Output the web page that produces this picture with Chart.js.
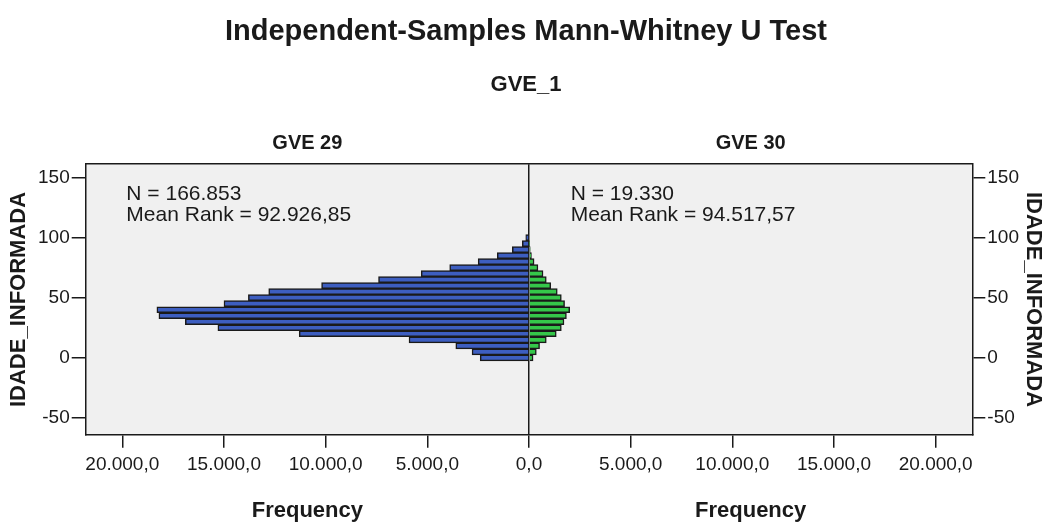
<!DOCTYPE html>
<html>
<head>
<meta charset="utf-8">
<script src="https://cdn.jsdelivr.net/npm/chart.js@4/dist/chart.umd.min.js"></script>
<style>
  html, body { margin: 0; padding: 0; background: #fff; }
  #wrap { width: 1045px; height: 523px; }
</style>
</head>
<body>
<div id="wrap"><canvas id="mw" width="1045" height="523"></canvas></div>
<script>
// Age bins (bin centres, width 5) and frequencies per group
const ageBins   = [0, 5, 10, 15, 20, 25, 30, 35, 40, 45, 50, 55, 60, 65, 70, 75, 80, 85, 90, 95, 100];
const gve29Freq = [2400, 2800, 3600, 5900, 11300, 15300, 16900, 18200, 18300, 15000, 13800,
                   12800, 10200, 7400, 5300, 3900, 2500, 1560, 820, 330, 160];
const gve30Freq = [200, 360, 520, 850, 1340, 1590, 1720, 1840, 2000, 1750, 1590,
                   1390, 1070, 850, 690, 440, 250, 120, 60, 20, 0];

const groupNames  = ['GVE 29', 'GVE 30'];
const groupStats  = [
  ['N = 166.853', 'Mean Rank = 92.926,85'],
  ['N = 19.330',  'Mean Rank = 94.517,57'],
];
const freqTicks   = [-20000, -15000, -10000, -5000, 0, 5000, 10000, 15000, 20000];
const ageTicks    = [-50, 0, 50, 100, 150];
const freqMax     = 21800;
const ageMin      = -64;
const ageMax      = 161;

const FONT = '"Liberation Sans", Arial, sans-serif';
const INK = '#1a1a1a';

// "20000" -> "20.000,0"
function fmtPt(v) {
  const [i, d] = Math.abs(v).toFixed(1).split('.');
  return i.replace(/\B(?=(\d{3})+(?!\d))/g, '.') + ',' + d;
}

const plotBg = {
  id: 'plotBg',
  beforeDraw(chart) {
    const { ctx, chartArea: a } = chart;
    ctx.save();
    ctx.fillStyle = '#f0f0f0';
    ctx.fillRect(a.left, a.top, a.right - a.left, a.bottom - a.top);
    ctx.restore();
  },
};

// N / Mean Rank text block in each half
const statsText = {
  id: 'statsText',
  afterDatasetsDraw(chart) {
    const { ctx, scales: { x, y } } = chart;
    const anchors = [-19800, 2050];
    const rows = [136, 119];
    ctx.save();
    ctx.fillStyle = INK;
    ctx.font = `21px ${FONT}`;
    ctx.textBaseline = 'middle';
    ctx.textAlign = 'left';
    groupStats.forEach((lines, g) => {
      lines.forEach((t, r) => ctx.fillText(t, x.getPixelForValue(anchors[g]), y.getPixelForValue(rows[r])));
    });
    ctx.restore();
  },
};

const sideTicks = (values) => (axis) => { axis.ticks = values.map(v => ({ value: v })); };

const ageAxis = (position, tickLength, titlePad) => ({
  type: 'linear',
  position,
  min: ageMin,
  max: ageMax,
  offset: false,
  afterBuildTicks: sideTicks(ageTicks),
  ticks: { color: INK, font: { family: FONT, size: 19 }, padding: 2 },
  grid: { offset: false, drawOnChartArea: false, tickColor: INK, tickLength, lineWidth: 1.5 },
  border: { display: true, color: INK, width: 1.5 },
  title: {
    display: true,
    text: 'IDADE_INFORMADA',
    color: INK,
    font: { family: FONT, size: 22, weight: 'bold', lineHeight: 1 },
    padding: titlePad,
  },
});

new Chart(document.getElementById('mw'), {
  type: 'bar',
  data: {
    datasets: [
      {
        label: groupNames[0],
        data: ageBins.map((a, i) => ({ y: a, x: -gve29Freq[i] })),
        backgroundColor: '#3d5ec0',
        borderColor: INK,
        borderWidth: 1.5,
        grouped: false,
        barPercentage: 1,
        categoryPercentage: 1,
      },
      {
        label: groupNames[1],
        data: ageBins.map((a, i) => ({ y: a, x: gve30Freq[i] })),
        backgroundColor: '#35c74a',
        borderColor: INK,
        borderWidth: 1.5,
        grouped: false,
        barPercentage: 1,
        categoryPercentage: 1,
      },
    ],
  },
  options: {
    indexAxis: 'y',
    responsive: false,
    devicePixelRatio: 1,
    animation: false,
    layout: { padding: { top: 5, left: 7, right: 0, bottom: -8 } },
    plugins: {
      legend: { display: false },
      tooltip: { enabled: false },
      title: {
        display: true,
        text: 'Independent-Samples Mann-Whitney U Test',
        color: INK,
        font: { family: FONT, size: 29, weight: 'bold' },
        padding: { top: 10, bottom: 15 },
      },
      subtitle: {
        display: true,
        text: 'GVE_1',
        color: INK,
        font: { family: FONT, size: 22, weight: 'bold' },
        padding: { top: 7, bottom: 32 },
      },
    },
    scales: {
      x: {
        type: 'linear',
        position: 'bottom',
        min: -freqMax,
        max: freqMax,
        afterBuildTicks: sideTicks(freqTicks),
        ticks: {
          color: INK,
          font: { family: FONT, size: 19 },
          padding: 6,
          maxRotation: 0,
          autoSkip: false,
          callback: v => fmtPt(v),
        },
        grid: {
          color: ctx => (ctx.tick && ctx.tick.value === 0 ? INK : 'rgba(0,0,0,0)'),
          tickColor: INK,
          tickLength: 13,
          lineWidth: 1.5,
        },
        border: { display: true, color: INK, width: 1.5 },
      },
      xFreq: {
        type: 'linear',
        position: 'bottom',
        weight: 1,
        min: -freqMax,
        max: freqMax,
        afterBuildTicks: sideTicks([-freqMax / 2, freqMax / 2]),
        ticks: {
          color: INK,
          font: { family: FONT, size: 22, weight: 'bold' },
          padding: 7,
          maxRotation: 0,
          autoSkip: false,
          callback: () => 'Frequency',
        },
        grid: { display: false },
        border: { display: false },
      },
      xTop: {
        type: 'linear',
        position: 'top',
        min: -freqMax,
        max: freqMax,
        afterBuildTicks: sideTicks([-freqMax / 2, freqMax / 2]),
        ticks: {
          color: INK,
          font: { family: FONT, size: 20, weight: 'bold' },
          padding: 1,
          maxRotation: 0,
          autoSkip: false,
          callback: v => groupNames[v < 0 ? 0 : 1],
        },
        grid: { display: false },
        border: { display: true, color: INK, width: 1.5 },
      },
      y: ageAxis('left', 14, { top: 1, bottom: 6 }),
      y2: ageAxis('right', 13, { top: 1, bottom: 1 }),
    },
  },
  plugins: [plotBg, statsText],
});
</script>
</body>
</html>
